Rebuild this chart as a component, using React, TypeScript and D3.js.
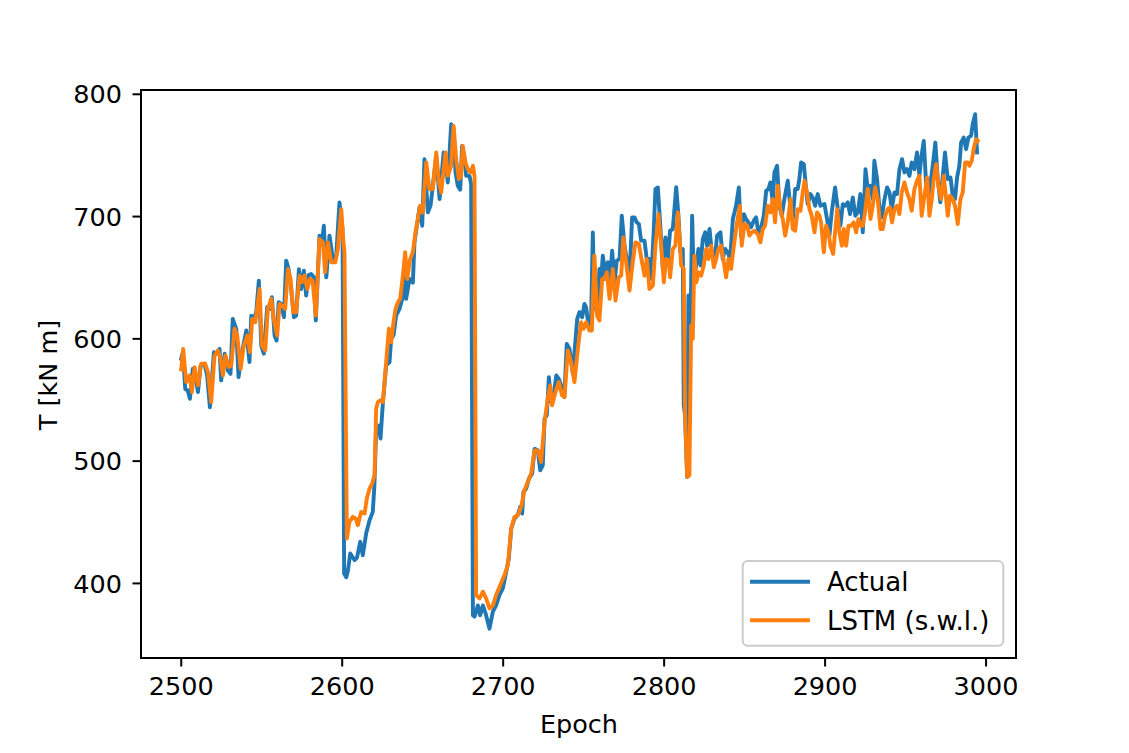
import React from 'react';
import * as d3 from 'd3';

const actualEpoch = [
  2500, 2501, 2502.5, 2504, 2505.4, 2507.2, 2508.7, 2510.4, 2512, 2514.5, 2516.1, 2517.8, 2520.3, 2522, 2523.8, 2524.8,
  2527, 2529, 2530.6, 2532, 2534.2, 2535.6, 2537.7, 2540.4, 2542.4, 2543.5, 2545, 2546.6, 2548.2, 2549.7, 2551.3, 2553.4,
  2554.9, 2556.3, 2558, 2559.2, 2560.5, 2562.1, 2563.8, 2565.2, 2566.7, 2568.3, 2570, 2571.4, 2573.1, 2574.5, 2576.2, 2577.6,
  2579.1, 2580.7, 2582.4, 2583.6, 2585.9, 2587.4, 2588.6, 2590.1, 2592.1, 2594.2, 2596.3, 2598.3, 2600.2,
  2601.2, 2602.5, 2603.5, 2605, 2607.7, 2609.2, 2611.2, 2612.8, 2614.9, 2617, 2619, 2620, 2621.1, 2622.8, 2623.8, 2625.3,
  2627.3, 2629.4, 2630.4, 2631.9, 2633.5, 2635.6, 2637.3, 2638.7, 2639.7, 2641.8, 2643.9, 2644.9, 2647, 2648, 2649.7, 2651.1,
  2653.2, 2654.9, 2656.3, 2658.4, 2660.5, 2663, 2664.2, 2665.6, 2667.7, 2669.2, 2670.4, 2671.8, 2673.3, 2674.5, 2676, 2677,
  2679.1, 2680.1, 2681.2, 2682.2, 2684.3, 2685.7, 2687.4, 2689.4, 2691.5, 2693.6, 2695.6,
  2697.7, 2699.8, 2701.9, 2703.5, 2705, 2707, 2709, 2710.6, 2711.8, 2712.6, 2714.3, 2716, 2718, 2719.5, 2721.5, 2723,
  2724.6, 2725.7, 2727.1, 2728.4, 2729.8, 2731.3, 2733, 2734.6, 2736, 2738, 2739.5, 2741.2, 2743.3, 2744.3, 2746, 2747.4,
  2749.1, 2750.5, 2751.5, 2753.2, 2754.6, 2755.7, 2756.7, 2758.4, 2759.8, 2760.9, 2761.9, 2763.6, 2765, 2766, 2767.7, 2769.2,
  2770.6, 2772.3, 2773.7, 2775.4, 2777, 2778.5, 2780.1, 2781.6, 2783, 2784.3, 2785.7, 2787.8, 2789.2, 2790.9, 2792, 2793.4,
  2794.6, 2796.1, 2797.5, 2799.2, 2800.8, 2802.3, 2803.7, 2805.4, 2807.5,
  2808.9, 2810.1, 2811.6, 2812.2, 2813, 2814.3, 2815.1, 2816.4, 2817.4, 2818.4, 2819.9, 2821.3, 2822.6, 2824, 2825.5, 2826.7,
  2828.2, 2829.6, 2831.3, 2832.9, 2835, 2836.4, 2837.9, 2839.5, 2841, 2842.7, 2844.7, 2846.4, 2847.8, 2849.5, 2850.9, 2852.4,
  2854, 2855.7, 2857.1, 2858.6, 2860.3, 2861.9, 2863.4, 2864.8, 2866, 2867.5, 2868.5, 2870.2, 2871.6, 2873.1, 2874.7, 2876.8,
  2878.5, 2879.9, 2881.4, 2883, 2884, 2885.1, 2886.8, 2888.2, 2889.2, 2890.9, 2892.3, 2893.8, 2895.4, 2897.1,
  2899.6, 2901.2, 2902.7, 2904.1, 2906.2, 2907.9, 2909.5, 2911, 2912.4, 2914.1, 2915.5, 2917.2, 2918.8, 2920.3, 2921.9, 2923.4,
  2925.1, 2926.5, 2928.2, 2929.6, 2930.6, 2932.3, 2933.8, 2935.2, 2936.9, 2938.5, 2940, 2941.4, 2943.1, 2944.7, 2946.2, 2947.8,
  2949.3, 2950.9, 2952.4, 2953.8, 2955.5, 2957.1, 2958.6, 2959.6, 2961.3, 2962.7, 2964.2, 2965.8, 2967.1, 2968.5, 2970, 2971.6,
  2973.1, 2974.5, 2976.2, 2977.9, 2979.3, 2980.7, 2982, 2983.4, 2984.5, 2986.1, 2987.6, 2989, 2990.7, 2991.7, 2993.2, 2994.4,
];
const actualT = [
  583.7, 589, 559, 557.8, 551, 575.5, 570, 556.5, 578, 579.6, 570, 544, 589, 587.8, 591.8, 566,
  587.8, 574, 571.4, 616.3, 608, 568.7, 589, 606.8, 581, 619, 616.3, 621.8, 647.6, 594.5, 587.8, 626,
  624.5, 634, 602.7, 598.6, 630, 628.6, 617.7, 664, 657, 640.8, 617.7, 619, 657, 640.8, 655.8, 635.4,
  652.2, 653, 650.3, 615, 684.4, 678.9, 692.5, 650.3, 684.4, 665.3, 668, 711.6, 690,
  408, 405, 410, 424.5, 419, 421, 434, 423, 441, 451.7, 458.5, 480, 526.5, 529, 518.4, 548.3,
  578.2, 581, 600, 603, 619, 624.5, 632.7, 659.9, 632.7, 649, 646, 679, 698, 707.5, 692.5, 746.9,
  703.4, 709, 725.2, 749.7, 714.3, 752.4, 747, 727.9, 775.5, 771, 736, 725.2, 722, 757.8, 747, 733.3,
  733.3, 726.5, 374, 372.8, 382, 374, 382, 374, 363, 377, 382,
  390.5, 396, 409.5, 420.4, 444.9, 453, 455.8, 462.6, 457.1, 474.8, 477.6, 485.7, 489.8, 510, 508.8, 492.5,
  496.6, 534.7, 537.4, 568.7, 548.3, 553.7, 570, 567.3, 562, 552.4, 595.9, 591.8, 571.4, 589, 616.3, 621.8,
  617.7, 628.6, 625.9, 609.5, 613.6, 687, 627.2, 621.8, 657.1, 649, 668, 651.7, 662.6, 640.8, 672, 646.3,
  664, 665.3, 700.7, 676.2, 664, 649, 699.3, 699.3, 695.2, 693.9, 680.3, 680.3, 665.3, 665.3, 649, 684.4,
  722.4, 723.8, 695.2, 657.1, 683, 665.3, 688.4, 689.8, 724,
  700.7, 670.8, 673.5, 545.6, 537.4, 487.1, 635.4, 613.6, 700.7, 649, 659.9, 673.5, 659.9, 681.6, 687.1, 676.2,
  689.8, 670.8, 662.6, 684.4, 687.1, 665.3, 673.5, 670.8, 665.3, 698, 708.8, 723.8, 684.4, 702, 698, 695.2,
  691.2, 696.6, 699.3, 687.1, 691.2, 700.7, 721.1, 722.5, 727.9, 711.6, 736.1, 741.5, 708.8, 700.7, 714.3, 729.3,
  706.1, 698, 722.5, 722.5, 730.6, 744.2, 742.9, 722.5, 710.2, 718.4, 715.6, 708.8, 718.4, 708.8,
  710.2, 698, 684.4, 703.4, 723.8, 706.1, 692.5, 710.2, 708.8, 711.6, 702, 715.6, 700.7, 703.4, 718.4, 687.1,
  738.8, 722.5, 725.2, 714.3, 745.6, 730.6, 706.1, 699.3, 714.3, 723.8, 719.7, 706.1, 719.7, 718.4, 738.8, 746.9,
  736.1, 738.8, 733.3, 744.2, 738.8, 752.4, 733.3, 746.9, 761.9, 727.9, 717, 730.6, 744.2, 760.5, 730.6, 711.6,
  733.3, 752.4, 730.6, 732, 717, 714.3, 732, 741.5, 760.5, 764.6, 755.1, 764.6, 766, 775.5, 783.7, 752.4,
];

const lstmEpoch = [
  2500, 2501.2, 2503.1, 2505.2, 2506.6, 2508.3, 2510.4, 2512.4, 2514.9, 2516.6, 2518.6, 2520.7, 2522.8, 2524.4, 2525.9, 2527.5,
  2529.4, 2531.1, 2533.1, 2534.8, 2536.9, 2538.9, 2541, 2542.7, 2544.1, 2546, 2548.7, 2550.1, 2552.2, 2553.8, 2555.9, 2557.6,
  2559.6, 2561.1, 2562.7, 2564.6, 2566.3, 2567.9, 2569.6, 2571.4, 2573.5, 2574.9, 2576.6, 2578.3, 2579.9, 2581.6, 2583.6, 2585.9,
  2588, 2589.4, 2591.1, 2593.2, 2595.7, 2597.3, 2599.4, 2600.6, 2601.4,
  2602.9, 2604.5, 2606.6, 2608.3, 2609.7, 2611.8, 2613.9, 2615.3, 2617, 2618.6, 2620.1, 2621.1, 2622.2, 2623.6, 2625.3, 2627.3,
  2629, 2630.4, 2631.9, 2633.1, 2634.6, 2636, 2637.7, 2639.1, 2640.4, 2642.2, 2643.9, 2645.5, 2647, 2648.4, 2650.1, 2652.2,
  2654.2, 2656.3, 2658.4, 2660.1, 2661.5, 2664.2, 2665.6, 2667.7, 2669.2, 2670.8, 2672.5, 2673.9, 2674.9, 2676.6, 2678, 2679.7,
  2681.2, 2682.2, 2683.2, 2685.3, 2687.4, 2689.4, 2691.5, 2693.6, 2695.6,
  2697.7, 2700.8, 2702.9, 2705, 2707, 2709.1, 2711.2, 2713.2, 2715.3, 2717.4, 2719.5, 2721.5, 2723.6, 2725.7, 2727.7, 2729.2,
  2730.4, 2732.5, 2734.6, 2736.6, 2738.1, 2740.2, 2742.2, 2744.3, 2746.4, 2748.4, 2749.9, 2751.6, 2753.6, 2755.1, 2756.7, 2758.4,
  2759.8, 2761.5, 2763, 2764.4, 2766.1, 2768.1, 2769.8, 2771.8, 2773.3, 2774.7, 2776.4, 2778.5, 2780.5, 2782.2, 2784.3, 2786.3,
  2787.8, 2789.2, 2790.9, 2793, 2794.6, 2796.5, 2798.1, 2799.8, 2801.2, 2802.9, 2803.7, 2805.4, 2807,
  2808.5, 2809.5, 2810.6, 2812.2, 2813, 2814.3, 2815.7, 2816.8, 2817.8, 2818.8, 2820.1, 2821.3, 2823, 2824.6, 2826.1, 2827.5,
  2829.2, 2830.9, 2832.3, 2833.8, 2835.4, 2837.1, 2838.5, 2840, 2841.6, 2843.3, 2845.3, 2847, 2848.2, 2849.9, 2851.6, 2853,
  2854.5, 2856.1, 2858.2, 2859.8, 2861.3, 2862.7, 2864.4, 2866, 2867.5, 2868.9, 2870.6, 2872.3, 2873.7, 2875.2, 2876.8, 2878.5,
  2879.9, 2881.4, 2883, 2884.7, 2886.1, 2887.2, 2888.8, 2890.3, 2891.7, 2893.4, 2895, 2896.5,
  2897.5, 2899.2, 2900.6, 2902.1, 2903.3, 2905, 2906.2, 2907.5, 2908.9, 2910.4, 2911.6, 2913.1, 2914.5, 2916.2, 2917.8, 2919.3,
  2920.7, 2922, 2923.4, 2924.8, 2926.5, 2928.2, 2929.6, 2931.1, 2932.7, 2934.4, 2935.8, 2937.3, 2938.9, 2940.2, 2941.6, 2943.1,
  2944.7, 2946.2, 2947.6, 2949.3, 2950.9, 2952.4, 2953.8, 2955.5, 2957.1, 2958.6, 2960, 2961.7, 2963.4, 2964.8, 2966.3, 2967.5,
  2969, 2970.4, 2972.1, 2973.7, 2975.2, 2976.2, 2977.6, 2979.3, 2980.7, 2982.4, 2984.1, 2985.5, 2987, 2988.6, 2989.7, 2991.1,
  2992.3, 2993.8, 2994.8,
];
const lstmT = [
  575, 591.8, 564.6, 570.1, 556.5, 576.9, 561.9, 579.6, 579.6, 572.8, 548.3, 586.4, 590.5, 583.7, 570.1, 586.4,
  576.9, 578.2, 608.2, 602.7, 575.5, 594.5, 602.7, 589.1, 616.3, 613.6, 640.8, 594.5, 590.5, 624.5, 632.7, 615,
  602.7, 628.6, 627.2, 624.5, 657.1, 649, 621.8, 621.8, 651.7, 646.3, 651.7, 640.8, 649, 647.6, 619, 681.6,
  678.9, 654.4, 678.9, 662.6, 662.6, 673.5, 706.1, 681.6, 670.8,
  436.7, 450.3, 454.4, 453.1, 447.6, 458.5, 457.1, 469.4, 477.6, 481.6, 488.5, 542.9, 548.3, 549.7, 548.3, 581,
  608.2, 597.3, 613.6, 624.5, 629.9, 632.7, 651.7, 670.8, 649, 665.3, 670.8, 687, 698, 708.8, 703.4, 744.2,
  722.5, 722.5, 752.4, 727.9, 719.7, 752.4, 733.3, 741.5, 774.2, 747, 730.6, 733.3, 757.8, 744.2, 738.8, 736.1,
  741.5, 733.3, 390.5, 387.8, 393.2, 387.8, 379.6, 382, 390.5,
  397, 406.8, 415, 444.9, 454.4, 455.8, 462.6, 476.2, 483, 489.8, 508.8, 508.8, 499.3, 532, 551, 561.9,
  545.6, 556.5, 564.6, 553.7, 552.4, 590.5, 581, 564.6, 591.8, 613.6, 608.2, 613.6, 606.8, 606.8, 668, 619,
  615, 649, 649, 654.4, 632.7, 657.1, 631.3, 650.3, 651.7, 683, 662.6, 639.5, 662.6, 678.9, 677.5, 662.6,
  651.7, 665.3, 640.8, 643.5, 676.2, 702, 677.5, 646.3, 665.3, 664, 650.3, 673.5, 676.2,
  703.4, 684.4, 659.9, 657.2, 540.1, 487.1, 488.4, 610.9, 600, 668, 646.3, 654.4, 651.7, 659.9, 673.5, 665.3,
  676.2, 658.5, 665.3, 673.5, 676.2, 662.6, 650.3, 665.3, 657.2, 676.2, 695.2, 708.8, 676.2, 693.9, 692.5, 684.4,
  687.1, 688.4, 685.7, 678.9, 689.8, 692.5, 708.8, 703.4, 714.3, 695.2, 725.2, 706.1, 697.9, 684.4, 695.2, 714.3,
  689.8, 688.4, 706.1, 704.8, 719.7, 729.3, 719.7, 706.1, 700.7, 687.1, 703.4, 700.7,
  695.2, 670.7, 692.5, 687.1, 676.2, 669.4, 687.1, 706.1, 687.1, 676.2, 689.8, 676.2, 692.5, 692.5, 695.2, 687.1,
  698, 692.5, 692.5, 703.4, 722.5, 698, 708.8, 723.8, 714.3, 689.8, 689.8, 700.7, 706.1, 707.5, 695.2, 706.1,
  708.8, 702, 719.7, 727.9, 719.7, 714.3, 704.8, 722.5, 729.3, 733.3, 700.7, 717, 732, 700.7, 714.3, 730.6,
  742.9, 725.2, 714.3, 733.3, 714.3, 700.7, 717, 714.3, 708.8, 693.9, 714.3, 719.7, 744.2, 744.2, 741.5, 745.6,
  755.1, 763.3, 761.9,
];

const xTicks = [2500, 2600, 2700, 2800, 2900, 3000];
const yTicks = [400, 500, 600, 700, 800];
const seriesNames = ['Actual', 'LSTM (s.w.l.)'];
const seriesColors = ['#1f77b4', '#ff7f0e'];
const xLabel = 'Epoch';
const yLabel = 'T [kN m]';

export default function App() {
  const W = 1129;
  const H = 753;
  const L = 141, R = 1016, T = 90, B = 658;
  const font = "'DejaVu Sans', sans-serif";
  const fs = 25.5;
  const legendFs = 26;

  const x = d3.scaleLinear().domain([2475, 3018.6]).range([L, R]);
  const y = d3.scaleLinear().domain([339, 803.5]).range([B, T]);

  const line = d3
    .line<[number, number]>()
    .x((d) => x(d[0]))
    .y((d) => y(d[1]));

  const actual: [number, number][] = actualEpoch.map((e, i) => [e, actualT[i]]);
  const lstm: [number, number][] = lstmEpoch.map((e, i) => [e, lstmT[i]]);
  const series = [actual, lstm];

  const tickLen = 8.5;

  return (
    <svg
      width={W}
      height={H}
      viewBox={`0 0 ${W} ${H}`}
      style={{ position: 'absolute', left: 0, top: 0, background: '#fff', display: 'block' }}
      fontFamily={font}
    >
      <rect x={0} y={0} width={W} height={H} fill="#fff" />
      {series.map((s, i) => (
        <path
          key={i}
          d={line(s) || ''}
          fill="none"
          stroke={seriesColors[i]}
          strokeWidth={3.9}
          strokeLinejoin="round"
          strokeLinecap="square"
        />
      ))}
      <rect x={L} y={T} width={R - L} height={B - T} fill="none" stroke="#000" strokeWidth={2} />
      {xTicks.map((t) => (
        <g key={t}>
          <line x1={x(t)} x2={x(t)} y1={B} y2={B + tickLen} stroke="#000" strokeWidth={2} />
          <text x={x(t)} y={695} fontSize={fs} textAnchor="middle" fill="#000">
            {t}
          </text>
        </g>
      ))}
      {yTicks.map((t) => (
        <g key={t}>
          <line x1={L - tickLen} x2={L} y1={y(t)} y2={y(t)} stroke="#000" strokeWidth={2} />
          <text x={122} y={y(t) + 9.2} fontSize={fs} textAnchor="end" fill="#000">
            {t}
          </text>
        </g>
      ))}
      <text x={579} y={733} fontSize={fs} textAnchor="middle" fill="#000">
        {xLabel}
      </text>
      <text
        transform={`translate(56.5, ${(T + B) / 2 + 1}) rotate(-90)`}
        fontSize={fs}
        textAnchor="middle"
        fill="#000"
      >
        {yLabel}
      </text>
      <rect
        x={742.7}
        y={561}
        width={260.6}
        height={84.7}
        rx={5}
        ry={5}
        fill="#fff"
        fillOpacity={0.8}
        stroke="#cccccc"
        strokeWidth={2}
      />
      {seriesNames.map((n, i) => {
        const ly = 581.7 + i * 38.5;
        return (
          <g key={n}>
            <line x1={752} x2={808} y1={ly} y2={ly} stroke={seriesColors[i]} strokeWidth={3.9} strokeLinecap="square" />
            <text x={827} y={ly + 9.5} fontSize={legendFs} fill="#000">
              {n}
            </text>
          </g>
        );
      })}
    </svg>
  );
}
